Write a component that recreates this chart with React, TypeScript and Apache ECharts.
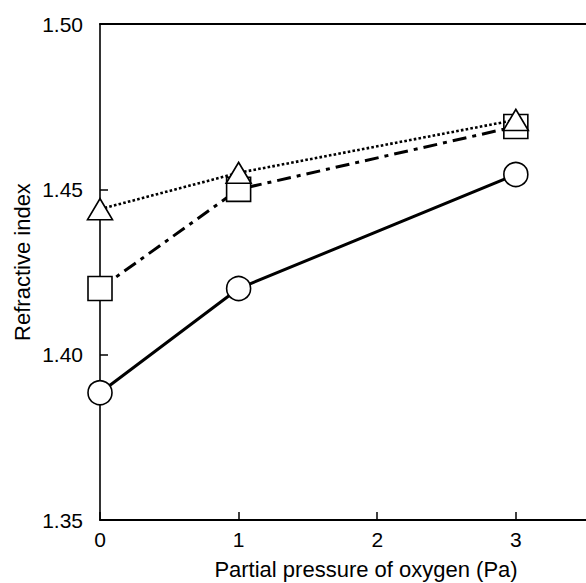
import React, { useEffect, useRef } from "react";
import * as echarts from "echarts";

const pressures = [0, 1, 3];
const seriesCircle = [1.3885, 1.42, 1.4545];
const seriesSquare = [1.42, 1.45, 1.469];
const seriesTriangle = [1.444, 1.455, 1.471];
const yTicks = [1.35, 1.4, 1.45, 1.5];
const xTicks = [0, 1, 2, 3];
const xTitle = "Partial pressure of oxygen (Pa)";
const yTitle = "Refractive index";

const FONT = "'Liberation Sans', Arial, Helvetica, sans-serif";

export default function App() {
  const ref = useRef<HTMLDivElement>(null);
  useEffect(() => {
    if (!ref.current) return;
    const chart = echarts.init(ref.current, undefined, { renderer: "svg" });
    const mk = (vals: number[]) => pressures.map((p, i) => [p, vals[i]]);
    const markerStyle = { color: "#fff", borderColor: "#000", borderWidth: 1.6 };
    chart.setOption({
      animation: false,
      backgroundColor: "#fff",
      grid: { left: 100, top: 24, width: 499, height: 496 },
      xAxis: [
        {
          type: "value",
          min: xTicks[0],
          max: 3.6,
          interval: 1,
          axisLine: { lineStyle: { color: "#000", width: 2 } },
          axisTick: { inside: true, length: 8, lineStyle: { color: "#000", width: 1.5 } },
          axisLabel: {
            color: "#000",
            fontSize: 21,
            fontFamily: FONT,
            margin: 9,
            showMaxLabel: false,
            formatter: (v: number) => (xTicks.includes(v) ? String(v) : ""),
          },
          splitLine: { show: false },
        },
        {
          type: "value",
          position: "top",
          min: 0,
          max: 3.6,
          axisLine: { show: true, onZero: false, lineStyle: { color: "#000", width: 2 } },
          axisTick: { show: false },
          axisLabel: { show: false },
          splitLine: { show: false },
        },
      ],
      yAxis: {
        type: "value",
        min: yTicks[0],
        max: yTicks[yTicks.length - 1],
        interval: 0.05,
        axisLine: { show: true, lineStyle: { color: "#000", width: 1.6 } },
        axisTick: { show: true, inside: true, length: 8, lineStyle: { color: "#000", width: 1.5 } },
        axisLabel: {
          color: "#000",
          fontSize: 21,
          fontFamily: FONT,
          margin: 17,
          formatter: (v: number) => v.toFixed(2),
        },
        splitLine: { show: false },
      },
      graphic: [
        {
          type: "text",
          x: 366,
          y: 569,
          style: {
            text: xTitle,
            fontSize: 22,
            fontFamily: FONT,
            fill: "#000",
            textAlign: "center",
            textVerticalAlign: "middle",
          },
        },
        {
          type: "text",
          x: 22,
          y: 262,
          rotation: Math.PI / 2,
          style: {
            text: yTitle,
            fontSize: 22,
            fontFamily: FONT,
            fill: "#000",
            textAlign: "center",
            textVerticalAlign: "middle",
          },
        },
      ],
      series: [
        {
          type: "line",
          data: mk(seriesCircle),
          symbol: "circle",
          symbolSize: 24,
          itemStyle: markerStyle,
          lineStyle: { color: "#000", width: 3, type: "solid" },
          z: 2,
        },
        {
          type: "line",
          data: mk(seriesSquare),
          symbol: "rect",
          symbolSize: 24,
          itemStyle: markerStyle,
          lineStyle: { color: "#000", width: 3, type: [14, 6, 4, 6] },
          z: 3,
        },
        {
          type: "line",
          data: mk(seriesTriangle),
          symbol: "triangle",
          symbolSize: [25, 21],
          itemStyle: markerStyle,
          lineStyle: { color: "#000", width: 2.6, type: [2.6, 2.2] },
          z: 4,
        },
      ],
    });
    return () => chart.dispose();
  }, []);
  return (
    <div style={{ position: "absolute", left: 0, top: 0, width: 586, height: 583, overflow: "hidden", background: "#fff" }}>
      <div ref={ref} style={{ width: 620, height: 583 }} />
    </div>
  );
}
